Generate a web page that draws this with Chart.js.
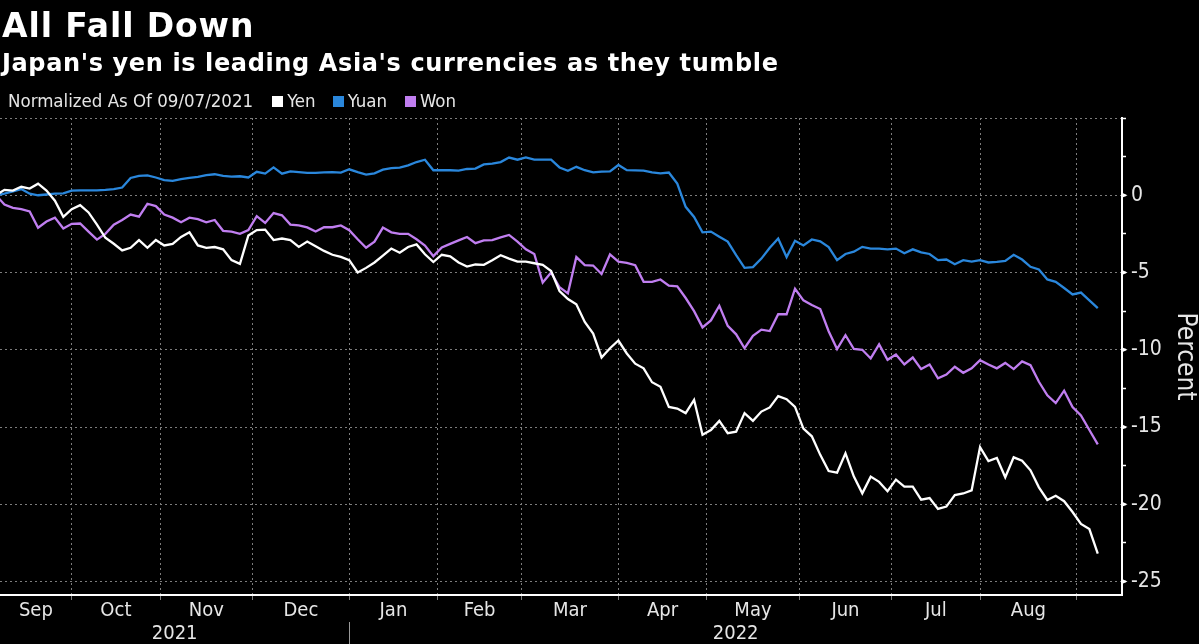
<!DOCTYPE html>
<html><head><meta charset="utf-8">
<script src="https://cdn.jsdelivr.net/npm/chart.js@4.4.0/dist/chart.umd.min.js"></script>
<style>
html,body{margin:0;padding:0;background:#000;}
#wrap{position:relative;width:1199px;height:644px;overflow:hidden;background:#000;}
#c{position:absolute;left:0;top:0;}
.t{position:absolute;left:2px;color:#fff;font-family:'DejaVu Sans',sans-serif;font-weight:bold;white-space:nowrap;}
#title{top:9px;font-size:33px;line-height:33px;letter-spacing:0.9px;}
#sub{top:51px;font-size:24px;line-height:24px;letter-spacing:0.62px;}
#legend{position:absolute;left:8px;top:92px;display:flex;align-items:baseline;font-family:'DejaVu Sans Condensed','DejaVu Sans',sans-serif;font-size:18.5px;line-height:18.5px;color:#e6e6e6;white-space:nowrap;}
.sw{display:inline-block;width:11px;height:11px;margin-right:4px;}
</style></head>
<body><div id="wrap">
<canvas id="c" width="1199" height="644"></canvas>
<div class="t" id="title">All Fall Down</div>
<div class="t" id="sub">Japan's yen is leading Asia's currencies as they tumble</div>
<div id="legend"><span>Normalized As Of 09/07/2021</span><span class="sw" id="sw0" style="margin-left:19px"></span><span>Yen</span><span class="sw" id="sw1" style="margin-left:17px"></span><span>Yuan</span><span class="sw" id="sw2" style="margin-left:18px"></span><span>Won</span></div>
</div>
<script>
// Series: percent change vs 2021-09-07, sampled every 2nd business day
const seriesNames = ['Yen', 'Yuan', 'Won'];
const seriesColors = ['#ffffff', '#2a87dc', '#c07ef0'];
// business-day index since 2021-09-07 (every 2nd business day)
const days = Array.from({length: 132}, (_, i) => i * 2);

const yen = [
  0, 0.35, 0.3, 0.55, 0.43, 0.75, 0.3, -0.35, -1.4, -0.9,
  -0.64, -1.11, -1.9, -2.75, -3.14, -3.57, -3.4, -2.9, -3.4, -2.9,
  -3.25, -3.15, -2.7, -2.4, -3.25, -3.4, -3.35, -3.5, -4.2, -4.44,
  -2.61, -2.25, -2.22, -2.9, -2.8, -2.9, -3.34, -3.0, -3.3, -3.6,
  -3.85, -3.99, -4.2, -5.0, -4.7, -4.35, -3.9, -3.45, -3.72, -3.35,
  -3.18, -3.82, -4.32, -3.85, -3.95, -4.35, -4.62, -4.48, -4.5, -4.2,
  -3.88, -4.1, -4.3, -4.3, -4.4, -4.5, -4.9, -6.2, -6.72, -7.05,
  -8.2, -8.95, -10.5, -9.9, -9.4, -10.24, -10.9, -11.2, -12.1, -12.39,
  -13.7, -13.8, -14.1, -13.25, -15.5, -15.19, -14.6, -15.4, -15.3, -14.1,
  -14.6, -14.0, -13.73, -13.0, -13.2, -13.7, -15.1, -15.6, -16.8, -17.85,
  -17.95, -16.7, -18.21, -19.29, -18.21, -18.55, -19.15, -18.4, -18.85, -18.86,
  -19.7, -19.6, -20.3, -20.15, -19.4, -19.3, -19.1, -16.3, -17.2, -17.0,
  -18.25, -16.96, -17.18, -17.8, -18.9, -19.72, -19.45, -19.8, -20.5, -21.27,
  -21.6, -23.2
];
const yuan = [
  0, 0.1, 0.25, 0.4, 0.1, 0.0, 0.05, 0.1, 0.12, 0.3,
  0.32, 0.32, 0.32, 0.35, 0.4, 0.5, 1.12, 1.25, 1.29, 1.15,
  0.98, 0.93, 1.05, 1.12, 1.19, 1.3, 1.36, 1.25, 1.2, 1.23,
  1.15, 1.52, 1.4, 1.8, 1.4, 1.55, 1.5, 1.45, 1.45, 1.48,
  1.5, 1.47, 1.68, 1.5, 1.34, 1.42, 1.66, 1.76, 1.79, 1.93,
  2.15, 2.3, 1.62, 1.62, 1.62, 1.6, 1.7, 1.73, 2.0, 2.05,
  2.15, 2.44, 2.3, 2.45, 2.31, 2.31, 2.3, 1.8, 1.58, 1.84,
  1.62, 1.48, 1.53, 1.55, 1.96, 1.62, 1.61, 1.6, 1.48, 1.42,
  1.47, 0.75, -0.75, -1.4, -2.4, -2.35, -2.68, -3.0, -3.88, -4.7,
  -4.65, -4.1, -3.4, -2.8, -4.0, -2.95, -3.25, -2.86, -2.98, -3.35,
  -4.2, -3.8, -3.65, -3.34, -3.45, -3.45, -3.5, -3.45, -3.75, -3.5,
  -3.7, -3.8, -4.2, -4.16, -4.46, -4.2, -4.3, -4.2, -4.35, -4.31,
  -4.25, -3.85, -4.16, -4.63, -4.8, -5.45, -5.6, -6.0, -6.42, -6.3,
  -6.8, -7.3
];
const won = [
  0, -0.6, -0.82, -0.9, -1.05, -2.1, -1.7, -1.45, -2.15, -1.85,
  -1.83, -2.35, -2.87, -2.5, -1.9, -1.6, -1.25, -1.38, -0.55, -0.7,
  -1.25, -1.45, -1.75, -1.45, -1.55, -1.75, -1.6, -2.3, -2.35, -2.5,
  -2.25, -1.35, -1.79, -1.15, -1.3, -1.9, -1.95, -2.08, -2.35, -2.07,
  -2.07, -1.95, -2.26, -2.85, -3.4, -3.0, -2.09, -2.4, -2.5, -2.5,
  -2.85, -3.25, -3.94, -3.38, -3.15, -2.92, -2.7, -3.1, -2.92, -2.9,
  -2.72, -2.57, -3.0, -3.5, -3.8, -5.65, -5.0, -5.95, -6.35, -4.0,
  -4.52, -4.55, -5.1, -3.83, -4.3, -4.38, -4.53, -5.6, -5.6, -5.45,
  -5.85, -5.9, -6.65, -7.5, -8.55, -8.1, -7.15, -8.45, -9.0, -9.9,
  -9.1, -8.7, -8.79, -7.7, -7.7, -6.05, -6.8, -7.1, -7.36, -8.8,
  -9.95, -9.05, -9.95, -10.0, -10.56, -9.65, -10.65, -10.3, -10.95, -10.5,
  -11.25, -10.95, -11.85, -11.6, -11.1, -11.49, -11.2, -10.67, -10.95, -11.2,
  -10.85, -11.25, -10.75, -11.0, -12.07, -12.95, -13.45, -12.65, -13.7, -14.25,
  -15.19, -16.12
];

// Axis definitions (business-day index)
const monthNames = ['Sep', 'Oct', 'Nov', 'Dec', 'Jan', 'Feb', 'Mar', 'Apr', 'May', 'Jun', 'Jul', 'Aug'];
const monthStarts = [-4, 18, 39, 61, 84, 105, 125, 148, 169, 191, 213, 234, 257];
const yearNames = ['2021', '2022'];
const yearStarts = [-4, 84, 268];
const yTicks = [5, 2.5, 0, -2.5, -5, -7.5, -10, -12.5, -15, -17.5, -20, -22.5, -25];
const X_MIN = 0.944, X_MAX = 267.76, Y_MIN = -25.87, Y_MAX = 5;

const monthCenters = monthNames.map((_, i) => (Math.max(monthStarts[i], X_MIN) + Math.min(monthStarts[i + 1], X_MAX)) / 2);
const yearCenters = yearNames.map((_, i) => (Math.max(yearStarts[i], X_MIN) + Math.min(yearStarts[i + 1], X_MAX)) / 2);

seriesColors.forEach((c, i) => { document.getElementById('sw' + i).style.background = c; });

Chart.defaults.font.family = "'DejaVu Sans Condensed', 'DejaVu Sans', sans-serif";
const GRID = '#7d7d7d';
const TXT = '#e6e6e6';

const extras = {
  id: 'extras',
  afterDraw(chart) {
    const ctx = chart.ctx;
    const ys = chart.scales.y, xs = chart.scales.x, xy = chart.scales.xy;
    ctx.save();
    ctx.fillStyle = '#ffffff';
    yTicks.forEach(v => {
      if (v % 5 === 0 && v !== Y_MAX) {
        const py = ys.getPixelForValue(v);
        ctx.beginPath();
        ctx.moveTo(ys.left, py - 2.5);
        ctx.lineTo(ys.left + 5.5, py);
        ctx.lineTo(ys.left, py + 2.5);
        ctx.closePath();
        ctx.fill();
      }
    });
    const px = Math.round(xs.getPixelForValue(yearStarts[1])) + 0.5;
    ctx.strokeStyle = '#9a9a9a';
    ctx.lineWidth = 1;
    ctx.beginPath();
    ctx.moveTo(px, xy.top);
    ctx.lineTo(px, xy.bottom);
    ctx.stroke();
    ctx.restore();
  }
};

const data = [yen, yuan, won];
new Chart(document.getElementById('c'), {
  type: 'line',
  data: {
    datasets: seriesNames.map((n, si) => ({
      label: n,
      data: days.map((d, i) => ({x: d, y: data[si][i]})),
      borderColor: seriesColors[si],
      backgroundColor: seriesColors[si],
      borderWidth: 2.3,
      pointRadius: 0,
      tension: 0,
      fill: false
    }))
  },
  options: {
    responsive: false,
    animation: false,
    events: [],
    devicePixelRatio: 1,
    layout: {padding: {top: 118, left: 0, right: 0, bottom: 0}},
    plugins: {legend: {display: false}, tooltip: {enabled: false}, title: {display: false}},
    scales: {
      x: {
        type: 'linear', position: 'bottom', min: X_MIN, max: X_MAX, weight: 0,
        afterBuildTicks: s => { s.ticks = monthStarts.filter(v => v >= X_MIN && v <= X_MAX).map(v => ({value: v})); },
        ticks: {display: false},
        grid: {color: GRID, lineWidth: 1, drawTicks: true, tickLength: 5, tickColor: GRID},
        border: {display: true, color: '#ffffff', width: 2, dash: [2, 3]},
        afterFit: s => { s.height = 5; }
      },
      xm: {
        type: 'linear', position: 'bottom', min: X_MIN, max: X_MAX, weight: 1,
        afterBuildTicks: s => { s.ticks = monthCenters.map(v => ({value: v})); },
        ticks: {autoSkip: false, maxRotation: 0, minRotation: 0, color: TXT, font: {size: 20, lineHeight: 1}, padding: 1,
          callback: (v, i) => monthNames[i]},
        grid: {display: false, drawTicks: false},
        border: {display: false},
        afterFit: s => { s.height = 22; }
      },
      xy: {
        type: 'linear', position: 'bottom', min: X_MIN, max: X_MAX, weight: 2,
        afterBuildTicks: s => { s.ticks = yearCenters.map(v => ({value: v})); },
        ticks: {autoSkip: false, maxRotation: 0, minRotation: 0, color: TXT, font: {size: 20, lineHeight: 1}, padding: 2,
          callback: (v, i) => yearNames[i]},
        grid: {display: false, drawTicks: false},
        border: {display: false},
        afterFit: s => { s.height = 22; }
      },
      y: {
        type: 'linear', position: 'right', min: Y_MIN, max: Y_MAX,
        afterBuildTicks: s => { s.ticks = yTicks.map(v => ({value: v})); },
        ticks: {color: TXT, font: {size: 21}, padding: 5, autoSkip: false,
          callback: v => (v % 5 === 0 && v !== Y_MAX) ? String(v) : ''},
        grid: {
          color: c => (c.tick && c.tick.value % 5 === 0) ? GRID : 'rgba(0,0,0,0)',
          lineWidth: 1, drawTicks: true, tickLength: 4, tickColor: '#ffffff', tickWidth: 1.5
        },
        border: {display: true, color: '#ffffff', width: 2, dash: [2, 3]},
        title: {display: true, text: 'Percent', color: TXT, font: {size: 26, lineHeight: 1.1}, padding: 0},
        afterFit: s => { s.width = 77; }
      }
    }
  },
  plugins: [extras]
});
</script>
</body></html>
